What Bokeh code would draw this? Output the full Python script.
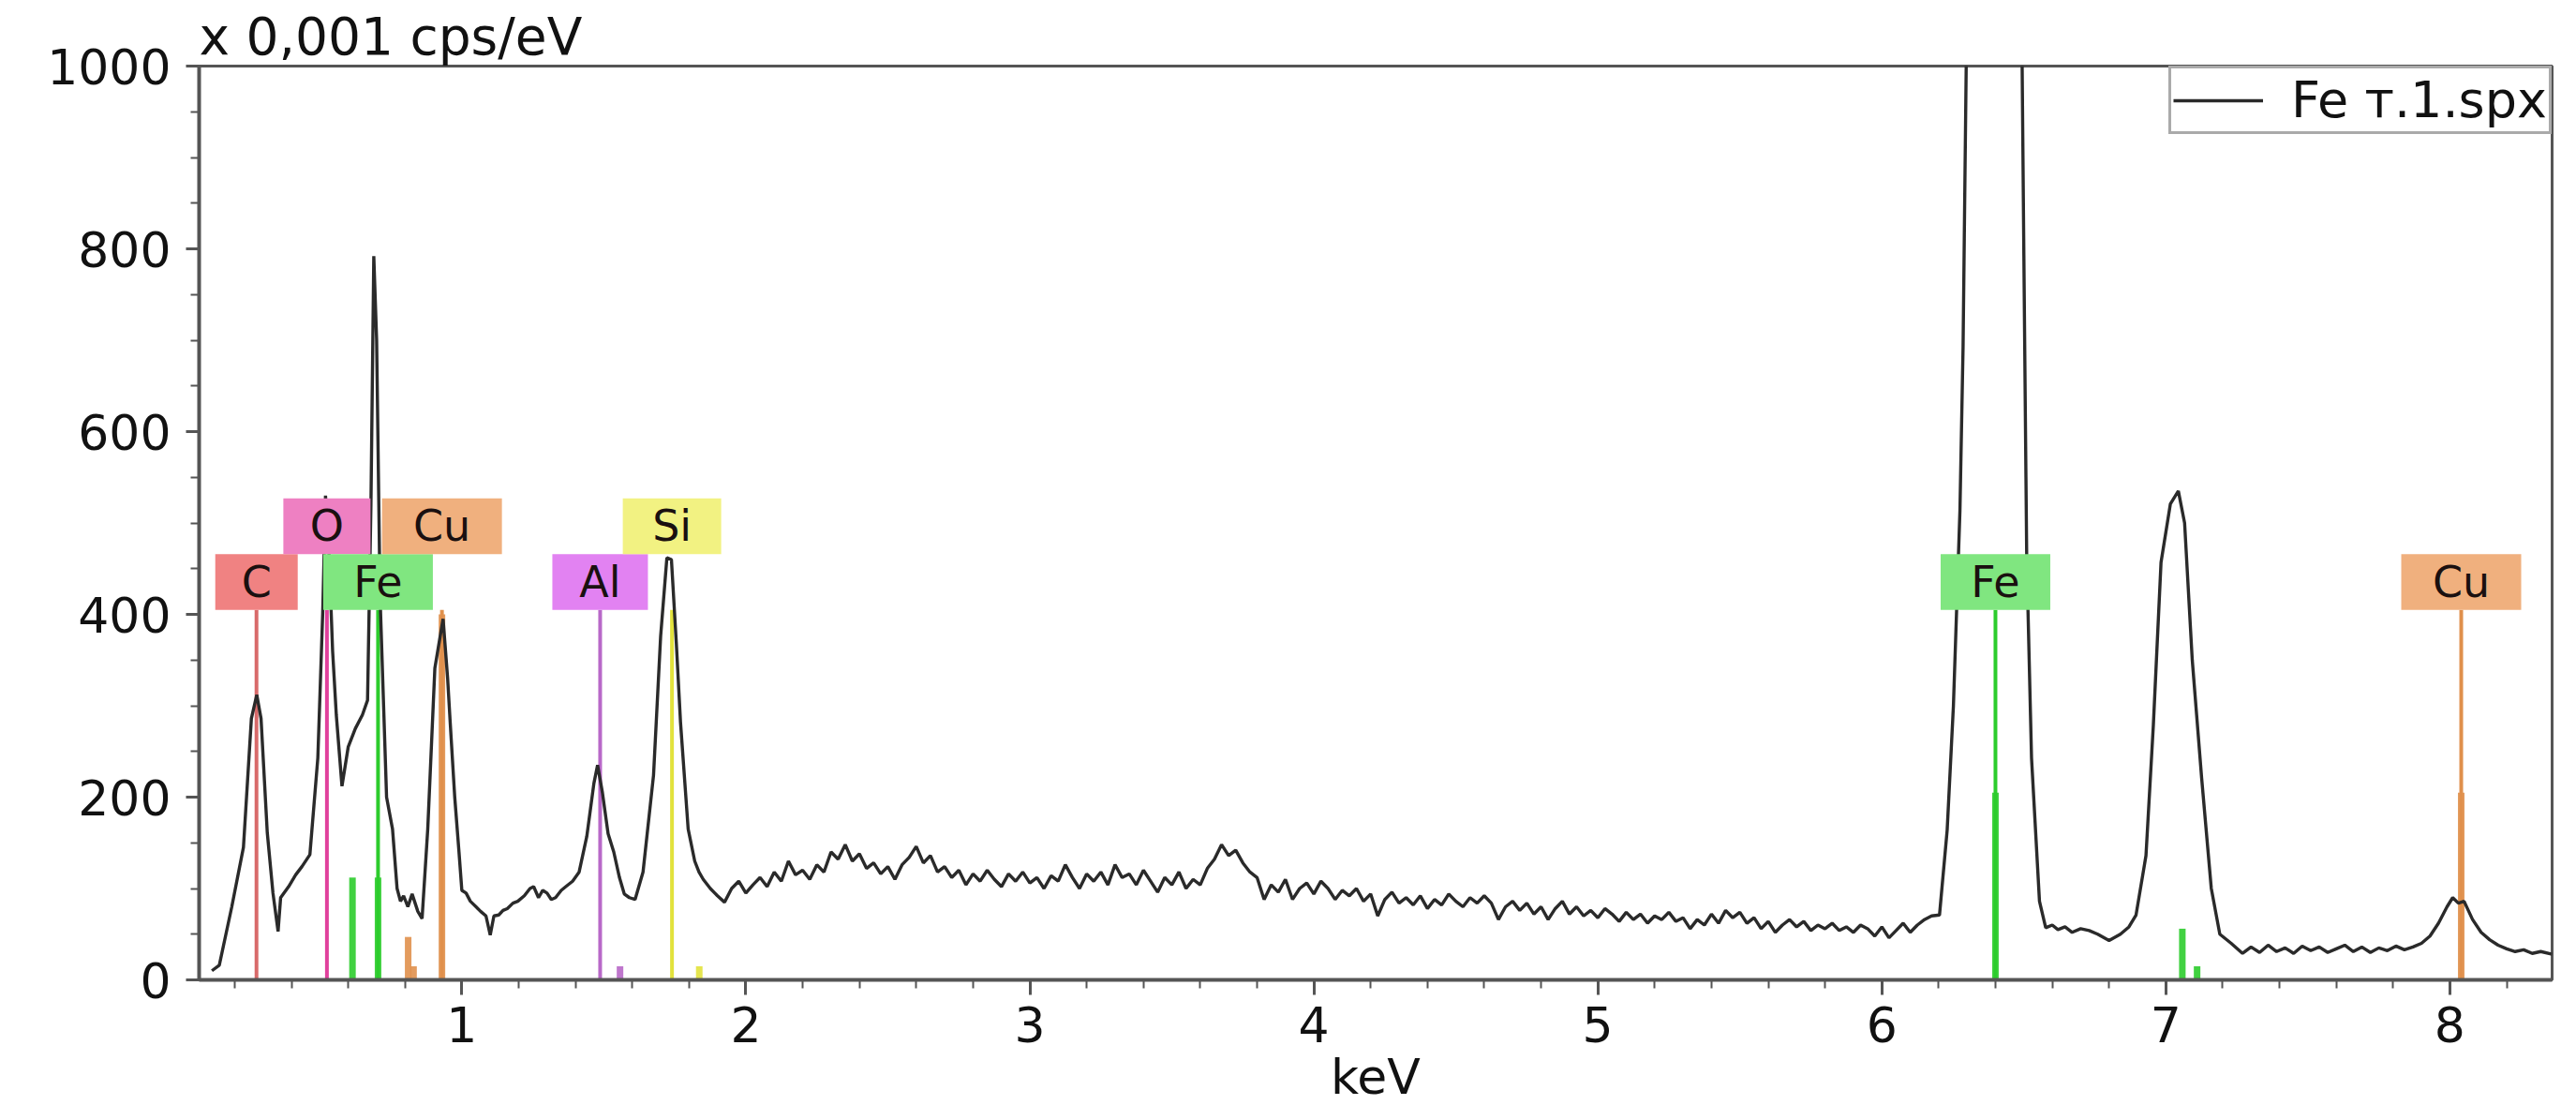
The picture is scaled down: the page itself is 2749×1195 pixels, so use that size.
from bokeh.plotting import figure
from bokeh.models import Range1d, ColumnDataSource, FixedTicker, Legend, LegendItem
from bokeh.embed import file_html
from bokeh.resources import INLINE
from bokeh.core.properties import value

# ---------------- data ----------------
# low-energy part: C, O, Fe-L, Cu-L, Al, Si peaks
energy_low = [
    0.12, 0.146, 0.19, 0.231, 0.259, 0.278, 0.293, 0.315, 0.335, 0.353, 0.362, 0.39, 0.415, 0.437,
    0.465, 0.493, 0.51, 0.52, 0.532, 0.545, 0.558, 0.578, 0.60, 0.625, 0.65, 0.668, 0.68, 0.69,
    0.70, 0.712, 0.735, 0.756, 0.772, 0.784, 0.795, 0.81, 0.825, 0.845, 0.86, 0.88, 0.905, 0.934,
    0.95, 0.959, 0.975, 0.99, 1.0, 1.015, 1.03, 1.05, 1.066, 1.085, 1.10, 1.113, 1.13, 1.145, 1.16,
    1.18, 1.197, 1.22, 1.24, 1.253, 1.27, 1.285, 1.30, 1.315, 1.33, 1.35, 1.366, 1.39, 1.413, 1.44,
    1.465, 1.478, 1.495, 1.515, 1.535, 1.555, 1.572, 1.59, 1.61, 1.638, 1.675, 1.70, 1.722, 1.738,
    1.755, 1.77, 1.797, 1.82, 1.835,
]
counts_low = [
    10, 16, 80, 145, 286, 312, 286, 161, 95, 53, 90, 102, 115, 124,
    137, 243, 400, 530, 470, 360, 290, 212, 255, 275, 290, 306, 520, 792,
    700, 420, 200, 165, 100, 86, 92, 80, 94, 75, 67, 165, 341, 395,
    330, 282, 200, 140, 98, 95, 86, 80, 75, 70, 49, 70, 71, 76, 78,
    84, 86, 92, 100, 102, 90, 98, 95, 88, 90, 98, 102, 108, 118, 157,
    215, 235, 205, 160, 140, 112, 94, 90, 88, 118, 224, 376, 462, 460,
    370, 282, 165, 130, 118,
]
# background 1.85 - 6.175 keV, every 0.025 keV
energy_bg = [round(1.85 + 0.025 * i, 3) for i in range(174)]
counts_bg = [
    110, 100, 92, 85, 100, 108, 95, 104, 112, 102,
    118, 108, 130, 115, 120, 110, 126, 118, 140, 132,
    148, 130, 138, 122, 128, 116, 124, 110, 126, 134,
    146, 128, 136, 118, 124, 112, 120, 104, 116, 108,
    120, 110, 102, 116, 108, 118, 106, 112, 100, 114,
    108, 126, 112, 100, 116, 108, 118, 104, 126, 112,
    116, 104, 120, 108, 96, 112, 104, 118, 100, 110,
    104, 122, 132, 148, 136, 142, 128, 118, 112, 88,
    104, 96, 110, 88, 100, 106, 94, 108, 100, 88,
    98, 92, 100, 86, 94, 70, 88, 96, 84, 90,
    82, 92, 78, 88, 82, 94, 86, 80, 90, 84,
    92, 84, 66, 80, 86, 76, 84, 72, 80, 66,
    78, 86, 72, 80, 70, 76, 68, 78, 72, 64,
    74, 66, 72, 62, 70, 66, 74, 64, 68, 56,
    66, 60, 72, 62, 76, 68, 74, 62, 68, 56,
    64, 52, 60, 66, 58, 64, 54, 60, 56, 62,
    54, 58, 52, 60, 56, 48, 58, 46, 54, 62,
    52, 60, 66, 70,
]
# Fe K-alpha (off scale) and Fe K-beta
energy_fe = [
    6.203, 6.23, 6.252, 6.275, 6.286, 6.297, 6.31, 6.40, 6.485, 6.494, 6.50, 6.51, 6.527, 6.555,
    6.577, 6.60, 6.62, 6.645, 6.67, 6.70, 6.73, 6.76, 6.80, 6.84, 6.87, 6.895, 6.93, 6.956, 6.983,
    7.016, 7.044, 7.066, 7.093, 7.126, 7.16, 7.19, 7.23, 7.27,
]
counts_fe = [
    71, 164, 300, 514, 693, 1000, 1400, 1800, 1400, 1000, 793, 464, 243, 86,
    57, 60, 55, 58, 52, 56, 54, 50, 43, 50, 58, 71, 136, 279, 457,
    521, 535, 500, 350, 221, 100, 50, 40, 29,
]
# tail with Cu K-alpha
energy_cu = [
    7.30, 7.33, 7.36, 7.39, 7.42, 7.45, 7.48, 7.51, 7.54, 7.57, 7.60, 7.63, 7.66, 7.69, 7.72,
    7.75, 7.78, 7.81, 7.84, 7.87, 7.90, 7.93, 7.96, 7.99, 8.01, 8.03, 8.05, 8.08, 8.11, 8.14,
    8.17, 8.20, 8.23, 8.26, 8.29, 8.32, 8.36,
]
counts_cu = [
    36, 30, 38, 31, 35, 29, 37, 32, 36, 30, 34, 38, 31, 36, 30,
    35, 32, 37, 33, 36, 40, 48, 62, 80, 90, 84, 86, 66, 52, 44,
    38, 34, 31, 33, 29, 31, 28,
]
energy_kev = energy_low + energy_bg + energy_fe + energy_cu
counts = counts_low + counts_bg + counts_fe + counts_cu

element_labels = ["C", "O", "Fe", "Cu", "Al", "Si", "Fe", "Cu"]
element_kev = [0.277, 0.525, 0.705, 0.930, 1.487, 1.740, 6.400, 8.040]
element_symbol = ["C", "O", "Fe", "Cu", "Al", "Si", "Fe", "Cu"]

line_kev = [0.615, 0.705, 0.811, 0.830, 0.930, 1.557, 1.836, 6.400, 7.058, 7.110, 8.040]
line_height = [112, 112, 47, 15, 400, 15, 15, 205, 56, 15, 205]
line_symbol = ["Fe", "Fe", "Cu", "Cu", "Cu", "Al", "Si", "Fe", "Fe", "Fe", "Cu"]

y_ticks = [0, 200, 400, 600, 800, 1000]
x_ticks = [1, 2, 3, 4, 5, 6, 7, 8]

# ---------------- styles ----------------
box_fill = {"C": "#f08282", "O": "#ee80c2", "Fe": "#80e680", "Cu": "#f0b07e", "Al": "#e282f2", "Si": "#f2f282"}
line_col = {"C": "#d86a6a", "O": "#e0409c", "Fe": "#2ccc2c", "Cu": "#e0904c", "Al": "#b868c8", "Si": "#e2e23c"}
box_w_px = {"C": 88, "O": 93, "Fe": 117, "Cu": 128, "Al": 102, "Si": 105}
ROW_LO, ROW_HI, ROW_H = 435.5, 496.5, 61
LINE_TOP = 405
FONT = "DejaVu Sans"
FS = "52px"

p = figure(width=2741, height=1187, output_backend="svg", toolbar_location=None,
           x_range=Range1d(0.075, 8.36), y_range=Range1d(0, 1000),
           min_border_left=212, min_border_right=18, min_border_top=70, min_border_bottom=142)
p.background_fill_color = "white"
p.border_fill_color = "white"
p.outline_line_color = "#555555"
p.outline_line_width = 3
p.xgrid.visible = False
p.ygrid.visible = False

p.title.text = "x 0,001 cps/eV"
p.title.text_font = FONT
p.title.text_font_size = "55px"
p.title.text_font_style = "normal"
p.title.text_color = "#111111"
p.title.align = "left"
p.title.standoff = 0

for ax in (p.xaxis[0], p.yaxis[0]):
    ax.axis_line_color = "#555555"
    ax.axis_line_width = 4
    ax.major_tick_line_color = "#555555"
    ax.minor_tick_line_color = "#555555"
    ax.major_tick_line_width = 3
    ax.minor_tick_line_width = 2
    ax.major_tick_in = 0
    ax.minor_tick_in = 0
    ax.major_label_text_font = FONT
    ax.major_label_text_font_size = FS
    ax.major_label_text_color = "#111111"

p.xaxis.ticker = FixedTicker(ticks=x_ticks, minor_ticks=[round(0.2 * i, 2) for i in range(1, 42)])
p.yaxis.ticker = FixedTicker(ticks=y_ticks, minor_ticks=list(range(0, 1001, 50)))
p.xaxis.major_tick_out = 16
p.xaxis.minor_tick_out = 9
p.yaxis.major_tick_out = 14
p.yaxis.minor_tick_out = 9
p.xaxis.major_label_standoff = 12
p.yaxis.major_label_standoff = 16
p.xaxis.axis_label = "keV"
p.xaxis.axis_label_text_font = FONT
p.xaxis.axis_label_text_font_size = FS
p.xaxis.axis_label_text_font_style = "normal"
p.xaxis.axis_label_text_color = "#111111"
p.xaxis.axis_label_standoff = 4

# element marker lines (thin, up to label boxes)
p.segment(x0=element_kev, y0=[0] * len(element_kev), x1=element_kev, y1=[LINE_TOP] * len(element_kev),
          line_color=[line_col[s] for s in element_symbol], line_width=4)
# line intensity bars (thicker)
p.segment(x0=line_kev, y0=[0] * len(line_kev), x1=line_kev, y1=line_height,
          line_color=[line_col[s] for s in line_symbol], line_width=7, line_alpha=0.9)

# spectrum
spec = p.line(energy_kev, counts, line_color="#2a2a2a", line_width=3.4)

# label boxes
rows = []
for i, s in enumerate(element_symbol):
    if s in ("O", "Si") or (s == "Cu" and element_kev[i] < 2):
        rows.append(ROW_HI)
    else:
        rows.append(ROW_LO)
src = ColumnDataSource(dict(x=element_kev, y=rows, w=[box_w_px[s] for s in element_symbol],
                            fill=[box_fill[s] for s in element_symbol], text=element_labels))
p.rect(x="x", y="y", width="w", height=ROW_H, width_units="screen", height_units="data",
       fill_color="fill", line_color=None, source=src)
p.text(x="x", y="y", text="text", source=src, text_align="center", text_baseline="middle",
       text_font=value(FONT), text_font_size="46px", text_color="#1a1010")

legend = Legend(items=[LegendItem(label="Fe т.1.spx", renderers=[spec])], location="top_right")
legend.margin = 0
legend.padding = 2
legend.spacing = 0
legend.border_line_color = "#555555"
legend.border_line_width = 3
legend.label_text_font = FONT
legend.label_text_font_size = "54px"
legend.label_text_color = "#111111"
legend.glyph_width = 96
legend.glyph_height = 40
legend.label_height = 40
legend.label_standoff = 30
legend.background_fill_alpha = 1.0
p.add_layout(legend)

open("out.html", "w").write(file_html(p, INLINE))
